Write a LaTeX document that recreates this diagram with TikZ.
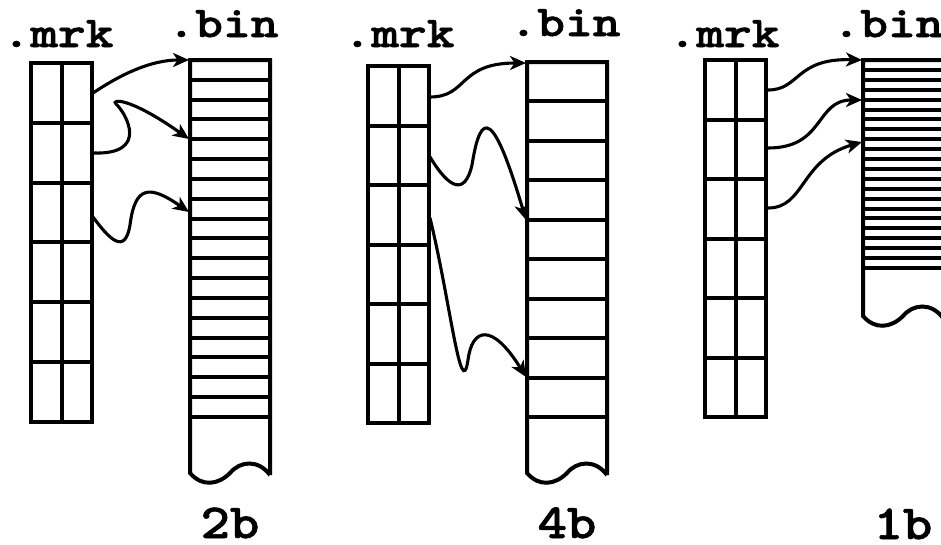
\documentclass[tikz,border=0pt]{standalone}
\usepackage{fontspec}
\newfontfamily\courb{lmmonolt10-bold.otf}[FakeBold=1.2]
\usetikzlibrary{arrows.meta}
\tikzset{
  box/.style={line width=4pt, line join=miter},
  conn/.style={line width=3.1pt, -{Stealth[length=16pt,width=14pt,inset=4.5pt]}},
  hdr/.style={font=\courb\fontsize{44}{44}\selectfont,
     inner sep=0pt, anchor=base, xscale=1.2, text depth=0pt, text height=28pt},
  lbl/.style={font=\courb\fontsize{49}{49}\selectfont,
     inner sep=0pt, anchor=base, xscale=1.14, text depth=0pt, text height=30pt}
}
% mrk grid: #1 left, #2 top, #3 row height
\newcommand{\mrkgrid}[3]{%
  \draw[box] (#1,#2) rectangle ({#1+61},{#2+6*#3});
  \draw[box] ({#1+30.5},#2) -- ({#1+30.5},{#2+6*#3});
  \foreach \k in {1,...,5} {\draw[box] (#1,{#2+\k*#3}) -- ({#1+61},{#2+\k*#3});}
}
% bin column: #1 left, #2 top, #3 cell height, #4 number of cells, #5 wave base y
\newcommand{\bincol}[5]{%
  \draw[box] ({#1+80},{#5+2}) -- ({#1+80},#2) -- (#1,#2) -- (#1,#5)
     .. controls ({#1+12},{#5+14}) and ({#1+28},{#5+12}) .. ({#1+40},#5)
     .. controls ({#1+50},{#5-12}) and ({#1+68},{#5-14}) .. ({#1+80},{#5+2});
  \foreach \k in {1,...,#4} {\draw[box] (#1,{#2+\k*#3}) -- ({#1+80},{#2+\k*#3});}
}
\begin{document}
\begin{tikzpicture}[x=1pt,y=-1pt]
\fill[white] (0,0) rectangle (941,544);
\useasboundingbox (0,0) rectangle (941,544);

% ---------- panel 1 (2b) ----------
\node[hdr] (mrkA) at (58,47) {.mrk};
\node[hdr] (binA) at (223,37) {.bin};
\mrkgrid{31}{63}{59.83}
\bincol{190}{60}{19.83}{18}{473}
\node[lbl] (labA) at (230,538) {2b};
\coordinate (a1s) at (93,93);   \coordinate (a1e) at (189,60);
\coordinate (a2s) at (93,153);  \coordinate (a2e) at (189,139);
\coordinate (a3s) at (93,217);  \coordinate (a3e) at (189,212);
\draw[conn] (a1s) .. controls (120,75) and (150,60) .. (a1e);
\draw[conn] (a2s) .. controls (150,155) and (126,113) .. (116,104)
                  .. controls (111,99.5) and (128,96) .. (a2e);
\draw[conn] (a3s) .. controls (110,240) and (125,255) .. (130,225)
                  .. controls (135,185) and (150,185) .. (a3e);

% ---------- panel 2 (4b) ----------
\node[hdr] (mrkB) at (399,47) {.mrk};
\node[hdr] (binB) at (565,36) {.bin};
\mrkgrid{368}{66}{59.5}
\bincol{527}{62}{39.44}{9}{473}
\node[lbl] (labB) at (567,538) {4b};
\coordinate (b1s) at (430,97);   \coordinate (b1e) at (526,63);
\coordinate (b2s) at (430,157);  \coordinate (b2e) at (526,220);
\coordinate (b3s) at (430,218);  \coordinate (b3e) at (526,377);
\draw[conn] (b1s) .. controls (468,97) and (458,63) .. (b1e);
\draw[conn] (b2s) .. controls (450,190) and (465,195) .. (472,165)
                  .. controls (481,108) and (494,112) .. (b2e);
\draw[conn] (b3s) .. controls (450,300) and (461,405) .. (468,360)
                  .. controls (472,328) and (492,322) .. (b3e);

% ---------- panel 3 (1b) ----------
\node[hdr] (mrkC) at (724,47) {.mrk};
\node[hdr] (binC) at (888,37) {.bin};
\mrkgrid{705}{60}{59.5}
\bincol{863}{60}{9.905}{21}{316}
\node[lbl] (labC) at (903,539) {1b};
\coordinate (c1s) at (768,90);   \coordinate (c1e) at (862,60);
\coordinate (c2s) at (768,148);  \coordinate (c2e) at (862,100);
\coordinate (c3s) at (768,208);  \coordinate (c3e) at (862,142);
\draw[conn] (c1s) .. controls (800,90) and (795,58) .. (c1e);
\draw[conn] (c2s) .. controls (825,148) and (815,100) .. (c2e);
\draw[conn] (c3s) .. controls (805,208) and (800,160) .. (c3e);
\end{tikzpicture}
\end{document}
